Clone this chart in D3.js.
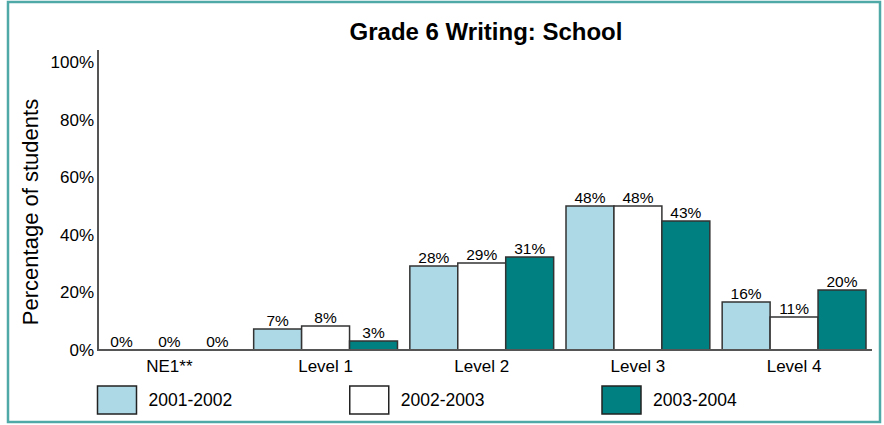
<!DOCTYPE html>
<html>
<head>
<meta charset="utf-8">
<script src="https://cdn.jsdelivr.net/npm/d3@7"></script>
<style>
  html, body { margin: 0; padding: 0; background: #fff; }
  svg { display: block; font-family: "Liberation Sans", Arial, sans-serif; }
</style>
</head>
<body>
<svg id="chart" width="884" height="425"></svg>
<script>
const categories = ["NE1**", "Level 1", "Level 2", "Level 3", "Level 4"];
const seriesNames = ["2001-2002", "2002-2003", "2003-2004"];
const values2001 = [0, 7, 28, 48, 16];
const values2002 = [0, 8, 29, 48, 11];
const values2003 = [0, 3, 31, 43, 20];
const tickValues = [0, 20, 40, 60, 80, 100];
const colors = ["#add8e6", "#ffffff", "#008080"];

const series = [values2001, values2002, values2003];
const svg = d3.select("#chart");

// frame
svg.append("rect").attr("x", 8).attr("y", 2).attr("width", 872).attr("height", 420)
  .attr("fill", "none").attr("stroke", "#4fa9a7").attr("stroke-width", 2.5);

const y = d3.scaleLinear().domain([0, 100]).range([350, 50]);
const yTick = d3.scaleLinear().domain([0, 100]).range([350, 62.5]);
const x0 = d3.scaleBand().domain(categories).range([97.5, 866]).paddingInner(0.079).paddingOuter(0);
const x1 = d3.scaleBand().domain(seriesNames).range([0, x0.bandwidth()]).padding(0);

// title
svg.append("text").attr("x", 486).attr("y", 40).attr("text-anchor", "middle")
  .attr("font-weight", "bold").attr("font-size", 24).attr("fill", "#000")
  .text("Grade 6 Writing: School");

// y axis label
svg.append("text").attr("transform", "translate(37.5,212) rotate(-90)")
  .attr("text-anchor", "middle").attr("font-size", 22).attr("fill", "#000")
  .text("Percentage of students");

// y tick labels
const yAxis = d3.axisLeft(yTick).tickValues(tickValues).tickSize(0).tickPadding(0)
  .tickFormat(d => d + "%");
const gy = svg.append("g").attr("transform", "translate(94,0)").call(yAxis);
gy.select(".domain").remove();
gy.selectAll("text").attr("font-size", 17).attr("fill", "#000").attr("font-family", "Liberation Sans, Arial, sans-serif");

// bars
const groups = svg.append("g").selectAll("g").data(categories).join("g")
  .attr("transform", d => `translate(${x0(d)},0)`);
series.forEach((vals, si) => {
  groups.append("rect")
    .attr("x", x1(seriesNames[si]))
    .attr("y", (d, i) => y(vals[i]))
    .attr("width", x1.bandwidth())
    .attr("height", (d, i) => y(0) - y(vals[i]))
    .attr("fill", colors[si])
    .attr("stroke", (d, i) => vals[i] > 0 ? "#333" : "none")
    .attr("stroke-width", 1.5);
  groups.append("text")
    .attr("x", x1(seriesNames[si]) + x1.bandwidth() / 2)
    .attr("y", (d, i) => y(vals[i]) - 3)
    .attr("text-anchor", "middle").attr("font-size", 15.5).attr("fill", "#000")
    .text((d, i) => vals[i] + "%");
});

// axes lines
svg.append("line").attr("x1", 98).attr("x2", 98).attr("y1", 50).attr("y2", 351)
  .attr("stroke", "#555").attr("stroke-width", 2);
svg.append("line").attr("x1", 97).attr("x2", 872).attr("y1", 350).attr("y2", 350)
  .attr("stroke", "#555").attr("stroke-width", 2);

// category labels
const xAxis = d3.axisBottom(x0).tickSize(0).tickPadding(0);
const gx = svg.append("g").attr("transform", "translate(0,360)").call(xAxis);
gx.select(".domain").remove();
gx.selectAll("text").attr("font-size", 17).attr("fill", "#000").attr("dy", "0.71em")
  .attr("font-family", "Liberation Sans, Arial, sans-serif");

// legend
const legendX = d3.scalePoint().domain(seriesNames).range([97.5, 602]);
const lg = svg.append("g").selectAll("g").data(seriesNames).join("g")
  .attr("transform", d => `translate(${legendX(d)},386)`);
lg.append("rect").attr("width", 39).attr("height", 28)
  .attr("fill", (d, i) => colors[i]).attr("stroke", "#222").attr("stroke-width", 1.5);
lg.append("text").attr("x", 51).attr("y", 20).attr("font-size", 17.5).attr("fill", "#000")
  .text(d => d);
</script>
</body>
</html>
